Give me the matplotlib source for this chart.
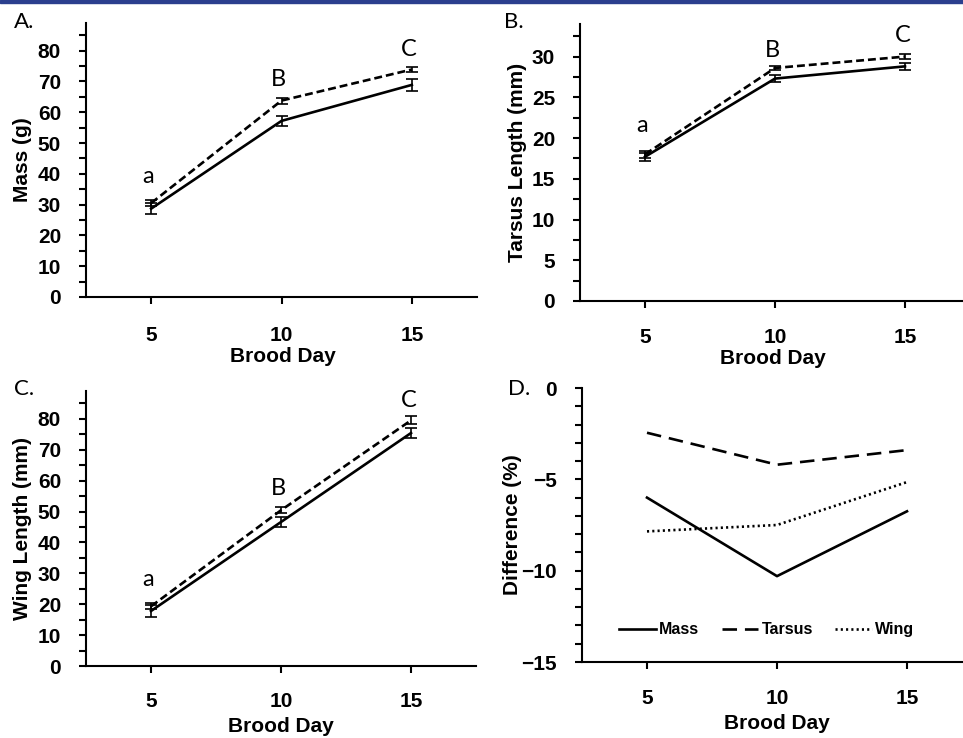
import matplotlib
matplotlib.use('Agg')
import matplotlib.pyplot as plt
from matplotlib.patches import Rectangle
import numpy as np

# Data
days = [5, 10, 15]

mass_solid = [28.7, 57.2, 68.9]
mass_solid_err = [1.8, 1.6, 2.0]
mass_dashed = [30.5, 63.8, 73.9]
mass_dashed_err = [1.0, 1.0, 0.9]

tarsus_solid = [17.7, 27.3, 28.8]
tarsus_solid_err = [0.5, 0.4, 0.4]
tarsus_dashed = [18.0, 28.6, 30.0]
tarsus_dashed_err = [0.4, 0.3, 0.3]

wing_solid = [17.8, 46.6, 75.4]
wing_solid_err = [1.8, 1.5, 1.5]
wing_dashed = [19.3, 50.4, 79.5]
wing_dashed_err = [1.0, 1.0, 1.3]

diff_mass = [-6.0, -10.3, -6.75]
diff_tarsus = [-2.45, -4.2, -3.4]
diff_wing = [-7.85, -7.5, -5.15]

letters = ['a', 'B', 'C']

W, H = 963, 738
fig = plt.figure(figsize=(W / 100, H / 100), dpi=100)
fig.patches.append(Rectangle((0, 1 - 3 / H), 1, 3 / H, transform=fig.transFigure,
                             color='#2b3f8e', zorder=10))

bold = {'family': 'Liberation Sans', 'weight': 'bold'}
calib = ['Lato', 'DejaVu Sans']


def make_axes(left, right, bottom, top, xpad):
    # pixel box -> figure fraction
    ax = fig.add_axes([left / W, 1 - bottom / H, (right - left) / W, (bottom - top) / H])
    for s in ['top', 'right']:
        ax.spines[s].set_visible(False)
    for s in ['left', 'bottom']:
        ax.spines[s].set_linewidth(1.5)
    ax.set_xlim(2.5, 17.5)
    ax.set_xticks(days)
    ax.tick_params(which='both', direction='out', length=5, width=1.5)
    ax.tick_params(axis='y', pad=13)
    ax.tick_params(axis='x', pad=xpad)
    return ax


def style_ticks(ax):
    for lab in ax.get_xticklabels() + ax.get_yticklabels():
        lab.set_fontfamily('Liberation Sans')
        lab.set_fontweight('bold')
        lab.set_fontsize(15)


def growth(ax, ys, yerr, ys2, yerr2):
    ax.errorbar(days, ys, yerr=yerr, color='black', lw=1.9, capsize=4,
                elinewidth=1.2, capthick=1.2)
    ax.errorbar(days, ys2, yerr=yerr2, color='black', lw=1.9, capsize=4,
                elinewidth=1.2, capthick=1.2, dashes=(3, 1.5))


# A
axA = make_axes(86, 477, 297, 23, 16)
growth(axA, mass_solid, mass_solid_err, mass_dashed, mass_dashed_err)
axA.set_ylim(0, 89)
axA.set_yticks(np.arange(0, 81, 10))
axA.set_yticks(np.arange(5, 86, 10), minor=True)
axA.set_ylabel('Mass (g)', fontsize=15, **bold)
axA.set_xlabel('Brood Day', fontsize=15, **bold)
axA.yaxis.set_label_coords(-0.138, 0.5)
axA.xaxis.set_label_coords(0.504, -0.182)
for x, y, t in zip(days, [39, 70.6, 80.5], letters):
    axA.text(x - 0.1, y, t, fontsize=17, family=calib, ha='center', va='center')
style_ticks(axA)

# B
axB = make_axes(580, 970, 301, 24, 14.5)
growth(axB, tarsus_solid, tarsus_solid_err, tarsus_dashed, tarsus_dashed_err)
axB.set_ylim(0, 34)
axB.set_yticks(np.arange(0, 31, 5))
axB.set_yticks(np.arange(2.5, 33, 5), minor=True)
axB.set_ylabel('Tarsus Length (mm)', fontsize=15, **bold)
axB.set_xlabel('Brood Day', fontsize=15, **bold)
axB.yaxis.set_label_coords(-0.136, 0.5)
axB.xaxis.set_label_coords(0.495, -0.175)
for x, y, t in zip(days, [21.5, 30.8, 32.6], letters):
    axB.text(x - 0.1, y, t, fontsize=17, family=calib, ha='center', va='center')
style_ticks(axB)

# C
axC = make_axes(86, 476, 666, 391, 13.5)
growth(axC, wing_solid, wing_solid_err, wing_dashed, wing_dashed_err)
axC.set_ylim(0, 89)
axC.set_yticks(np.arange(0, 81, 10))
axC.set_yticks(np.arange(5, 86, 10), minor=True)
axC.set_ylabel('Wing Length (mm)', fontsize=15, **bold)
axC.set_xlabel('Brood Day', fontsize=15, **bold)
axC.yaxis.set_label_coords(-0.138, 0.5)
axC.xaxis.set_label_coords(0.5, -0.185)
for x, y, t in zip(days, [28, 57.5, 86], letters):
    axC.text(x - 0.1, y, t, fontsize=17, family=calib, ha='center', va='center')
style_ticks(axC)

# D
axD = make_axes(582, 972, 662, 388, 14.5)
axD.plot(days, diff_mass, color='black', lw=1.9, label='Mass')
axD.plot(days, diff_tarsus, color='black', lw=1.9, dashes=(5.5, 3), label='Tarsus')
axD.plot(days, diff_wing, color='black', lw=1.9, dashes=(0.8, 1.2), label='Wing')
axD.set_ylim(-15, 0)
axD.set_yticks([0, -5, -10, -15])
axD.set_yticks(np.arange(-14, 0, 1), minor=True)
axD.set_ylabel('Difference (%)', fontsize=15, **bold)
axD.set_xlabel('Brood Day', fontsize=15, **bold)
axD.yaxis.set_label_coords(-0.154, 0.5)
axD.xaxis.set_label_coords(0.5, -0.19)
axD.legend(loc='center', bbox_to_anchor=(0.474, 0.117), ncol=3, frameon=False,
           handlelength=2.3, handletextpad=0.2, columnspacing=1.4,
           prop={'family': 'Liberation Sans', 'weight': 'bold', 'size': 11.5})
style_ticks(axD)

# panel labels
for px, py, t in [(24, 22, 'A.'), (514, 22, 'B.'), (24, 389, 'C.'), (519, 389, 'D.')]:
    fig.text(px / W, 1 - py / H, t, fontsize=16, family=calib, ha='center', va='center')

fig.savefig('out.png', dpi=100)
